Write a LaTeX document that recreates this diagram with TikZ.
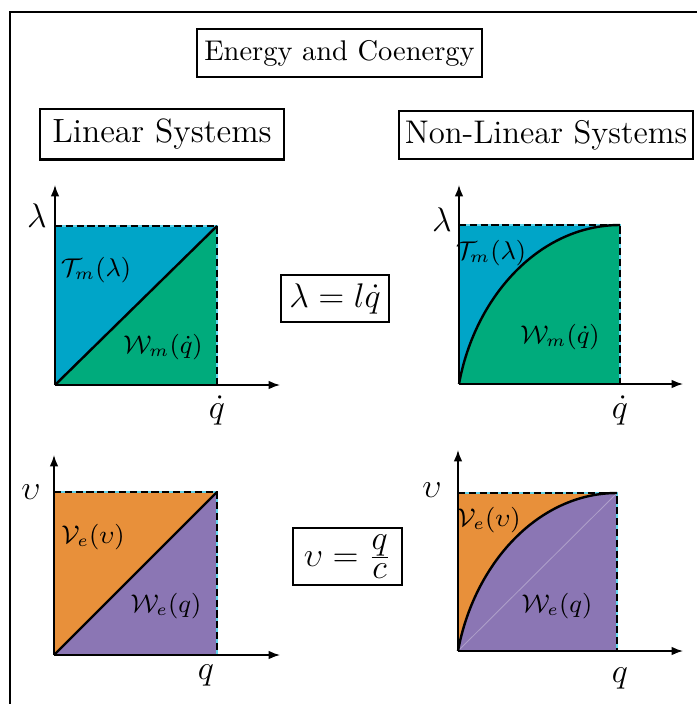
\documentclass[tikz,border=0pt]{standalone}
\usetikzlibrary{arrows.meta}
\definecolor{cblue}{HTML}{00A5C8}
\definecolor{cgreen}{HTML}{00AB7C}
\definecolor{corange}{HTML}{E8903A}
\definecolor{cpurple}{HTML}{8B76B4}
\definecolor{ccyan}{HTML}{5FD3EA}
\begin{document}
\begin{tikzpicture}[x=0.351pt,y=-0.351pt,
  box/.style={draw,line width=1pt,inner sep=0pt,align=center},
  axis/.style={line width=0.5pt,-{Latex[length=4pt,width=3pt]}},
  cyanline/.style={ccyan,line width=0.5pt},
  edgeline/.style={line width=0.9pt,dash pattern=on 2.5pt off 1.3pt},
  curveline/.style={line width=0.85pt},
  axlab/.style={font=\fontsize{12}{14}\selectfont,inner sep=0pt},
  axlabb/.style={font=\fontsize{13}{15}\selectfont,inner sep=0pt},
  reglab/.style={font=\fontsize{8.8}{10}\selectfont,inner sep=0pt}]
\useasboundingbox (0,0) rectangle (697,704);
\clip (0,0) rectangle (697,704);
\draw[line width=1pt] (10,12) rectangle (730,740);

% headings
\node[box,minimum width=100pt,minimum height=16.85pt] (title) at (339.5,53) {Energy and Coenergy};
\node[box,minimum width=85.6pt,minimum height=17.6pt,font=\fontsize{11.8}{13}\selectfont] (lin) at (162,134) {Linear Systems};
\node[box,minimum width=103.2pt,minimum height=16.8pt,font=\fontsize{11.5}{13}\selectfont] (nonlin) at (546,135) {Non-Linear Systems};
\node[box,minimum width=37.9pt,minimum height=16.5pt,font=\large] (eqa) at (335,298.5) {$\lambda = l\dot{q}$};
\node[box,minimum width=38.3pt,minimum height=20pt,font=\large] (eqb) at (347.5,556.5) {$\upsilon = \frac{\textstyle q}{\textstyle c}$};

% ---- top left
\coordinate (tlO) at (55,385); \coordinate (tlA) at (55,226);
\coordinate (tlC) at (217,226); \coordinate (tlB) at (217,385);
\coordinate (tlX) at (280,385); \coordinate (tlY) at (55,185);
\fill[cblue] (tlO) -- (tlA) -- (tlC) -- cycle;
\fill[cgreen] (tlO) -- (tlC) -- (tlB) -- cycle;
\draw[cyanline] (tlA) -- (tlC) -- (tlB);
\draw[edgeline] (tlA) -- (tlC) -- (tlB);
\draw[curveline] (tlO) -- (tlC);
\draw[axis] (tlO) -- (tlX);
\draw[axis] (tlO) -- (tlY);
\node[axlab] (tll) at (37,216) {$\lambda$};
\node[axlab] (tlq) at (217,410) {$\dot{q}$};
\node[reglab] (tlT) at (96,270) {$\mathcal{T}_m(\lambda)$};
\node[reglab] (tlW) at (163,347) {$\mathcal{W}_m(\dot{q})$};

% ---- top right
\coordinate (trO) at (459,384); \coordinate (trA) at (459,225);
\coordinate (trC) at (620,225); \coordinate (trB) at (620,384);
\coordinate (trX) at (683,384); \coordinate (trY) at (459,185);
\coordinate (trc1) at (475,296); \coordinate (trc2) at (540,225);
\fill[cblue] (trO) -- (trA) -- (trC) .. controls (trc2) and (trc1) .. (trO) -- cycle;
\fill[cgreen] (trO) .. controls (trc1) and (trc2) .. (trC) -- (trB) -- cycle;
\draw[cyanline] (trA) -- (trC) -- (trB);
\draw[edgeline] (trA) -- (trC) -- (trB);
\draw[curveline] (trO) .. controls (trc1) and (trc2) .. (trC);
\draw[axis] (trO) -- (trX);
\draw[axis] (trO) -- (trY);
\node[axlab] (trl) at (442,220) {$\lambda$};
\node[axlab] (trq) at (620,410) {$\dot{q}$};
\node[reglab] (trT) at (491,253) {$\mathcal{T}_m(\lambda)$};
\node[reglab] (trW) at (560,337) {$\mathcal{W}_m(\dot{q})$};

% ---- bottom left
\coordinate (blO) at (54,655); \coordinate (blA) at (54,492);
\coordinate (blC) at (217,492); \coordinate (blB) at (217,655);
\coordinate (blX) at (280,655); \coordinate (blY) at (54,455);
\fill[corange] (blO) -- (blA) -- (blC) -- cycle;
\fill[cpurple] (blO) -- (blC) -- (blB) -- cycle;
\draw[cyanline] (blA) -- (blC) -- (blB);
\draw[edgeline] (blA) -- (blC) -- (blB);
\draw[curveline] (blO) -- (blC);
\draw[axis] (blO) -- (blX);
\draw[axis] (blO) -- (blY);
\node[axlabb] (blu) at (31,492) {$\upsilon$};
\node[axlabb] (blq) at (206,675) {$q$};
\node[reglab] (blV) at (93,537) {$\mathcal{V}_e(\upsilon)$};
\node[reglab] (blW) at (166,606) {$\mathcal{W}_e(q)$};

% ---- bottom right
\coordinate (brO) at (458,651); \coordinate (brA) at (458,493);
\coordinate (brC) at (617,493); \coordinate (brB) at (617,651);
\coordinate (brX) at (683,651); \coordinate (brY) at (458,450);
\coordinate (brc1) at (474,564); \coordinate (brc2) at (538,493);
\fill[corange] (brO) -- (brA) -- (brC) .. controls (brc2) and (brc1) .. (brO) -- cycle;
\fill[cpurple] (brO) .. controls (brc1) and (brc2) .. (brC) -- (brB) -- cycle;
\draw[cpurple!70!white,line width=0.3pt] (brO) -- (brC);
\draw[cyanline] (brA) -- (brC) -- (brB);
\draw[edgeline] (brA) -- (brC) -- (brB);
\draw[curveline] (brO) .. controls (brc1) and (brc2) .. (brC);
\draw[axis] (brO) -- (brX);
\draw[axis] (brO) -- (brY);
\node[axlabb] (bru) at (432,490) {$\upsilon$};
\node[axlabb] (brq) at (620,678) {$q$};
\node[reglab] (brV) at (489,520) {$\mathcal{V}_e(\upsilon)$};
\node[reglab] (brW) at (557,606) {$\mathcal{W}_e(q)$};
\end{tikzpicture}
\end{document}
